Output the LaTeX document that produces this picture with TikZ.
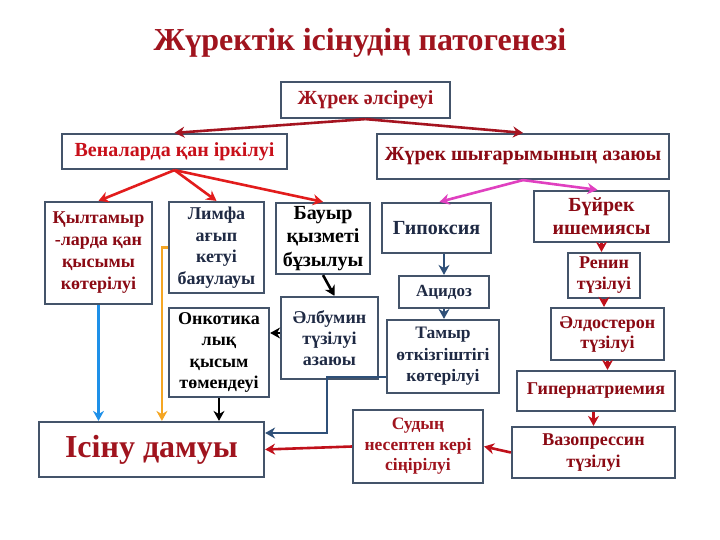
\documentclass[tikz,border=0pt]{standalone}
\usepackage{fontspec}
\setmainfont{Liberation Serif}
\usetikzlibrary{arrows.meta,calc}
\definecolor{bordc}{HTML}{44546A}
\definecolor{dred}{HTML}{A0141E}
\definecolor{bred}{HTML}{C8101A}
\definecolor{mred}{HTML}{8B0A14}
\definecolor{navyt}{HTML}{1F2A44}
\definecolor{arrDR}{HTML}{A51420}
\definecolor{arrR}{HTML}{E21C1C}
\definecolor{arrM}{HTML}{E040C0}
\definecolor{arrB}{HTML}{1E90E8}
\definecolor{arrO}{HTML}{F5A623}
\definecolor{arrN}{HTML}{2F5078}
\definecolor{arrRR}{HTML}{C0101A}
\tikzset{
  box/.style={draw=bordc, line width=2.2pt, fill=white, inner sep=0pt, align=center},
  conn/.style={line width=2.6pt, -{Stealth[length=10pt,width=11pt]}},
  fz/.style 2 args={font=\fontsize{#1}{#2}\selectfont\bfseries},
}
\begin{document}
\begin{tikzpicture}[x=1pt,y=-1pt]
\useasboundingbox[fill=white] (0,0) rectangle (720,540);
\node[font=\fontsize{32}{36}\selectfont\bfseries, text=dred] (title) at (360,43) {Жүректік ісінудің патогенезі};

\node[box, fz={20}{24}, text=dred, minimum width=169, minimum height=36] (top) at (365.5,100) {Жүрек әлсіреуі};
\node[box, fz={20}{24}, text=bred, minimum width=225, minimum height=35] (ven) at (174.5,151.5) {Веналарда қан іркілуі};
\node[box, fz={20}{24}, text=mred, minimum width=292, minimum height=45] (zhsh) at (523,156.5) {Жүрек шығарымының азаюы};

\node[box, fz={18}{22}, text=mred, minimum width=107, minimum height=102] (qyl) at (98.5,253) {Қылтамыр\\-ларда қан\\қысымы\\көтерілуі};
\node[box, fz={18}{21.5}, text=navyt, minimum width=95, minimum height=91] (limfa) at (216.5,247.5) {Лимфа\\ағып\\кетуі\\баяулауы};
\node[box, fz={20}{23.5}, text=black, minimum width=94, minimum height=71] (bauyr) at (323,238.5) {Бауыр\\қызметі\\бұзылуы};
\node[box, fz={20}{24}, text=navyt, minimum width=109, minimum height=50] (gipo) at (436.5,228) {Гипоксия};
\node[box, fz={17}{20}, text=navyt, minimum width=90, minimum height=32] (acid) at (444,292) {Ацидоз};
\node[box, fz={17.5}{21.5}, text=navyt, minimum width=112, minimum height=73] (tamyr) at (443,356.5) {Тамыр\\өткізгіштігі\\көтерілуі};
\node[box, fz={18}{21}, text=navyt, minimum width=97, minimum height=82] (alb) at (329.5,338) {Әлбумин\\түзілуі\\азаюы};
\node[box, fz={18}{21.5}, text=black, minimum width=100, minimum height=89] (onko) at (219,352.5) {Онкотика\\лық\\қысым\\төмендеуі};

\node[box, fz={20}{23}, text=mred, minimum width=135, minimum height=51] (buyr) at (601.5,216.5) {Бүйрек\\ишемиясы};
\node[box, fz={18}{21}, text=mred, minimum width=72, minimum height=45] (renin) at (604,275.5) {Ренин\\түзілуі};
\node[box, fz={18}{20}, text=mred, minimum width=113, minimum height=52] (aldo) at (607.5,334) {Әлдостерон\\түзілуі};
\node[box, fz={18}{20}, text=mred, minimum width=158, minimum height=40] (giper) at (596,391) {Гипернатриемия};
\node[box, fz={18}{22}, text=mred, minimum width=163, minimum height=51] (vazo) at (593.5,452.5) {Вазопрессин\\түзілуі};
\node[box, fz={17.5}{20.5}, text=dred, minimum width=130, minimum height=73] (sudyn) at (418,446.5) {Судың\\несептен кері\\сіңірілуі};
\node[box, font=\fontsize{32}{36}\selectfont\bfseries, text=dred, minimum width=225, minimum height=55] (isinu) at (151.5,449.5) {Ісіну дамуы};

% top level
\draw[conn, arrDR] (top.south) -- (ven.north);
\draw[conn, arrDR] (top.south) -- (zhsh.north);
\draw[conn, arrR] (ven.south) -- (qyl.north);
\draw[conn, arrR] (ven.south) -- (limfa.north);
\draw[conn, arrR] (ven.south) -- (bauyr.north);
\draw[conn, arrM] (zhsh.south) -- ([xshift=3pt]gipo.north);
\draw[conn, arrM] (zhsh.south) -- ([xshift=-4pt]buyr.north);

% left column
\draw[conn, arrB] (qyl.south) -- (qyl.south |- isinu.north);
\coordinate (o1) at ($(limfa.west)+(-6,0)$);
\draw[conn, arrO] (limfa.west) -- (o1) -- (o1 |- isinu.north);
\draw[conn, black] (onko.south) -- (onko.south |- isinu.north);
\draw[conn, black] (bauyr.south) -- ([xshift=5pt]alb.north);
\draw[conn, black] ([yshift=5pt]alb.west) -- ([yshift=5pt]alb.west -| onko.east);

% middle column
\draw[conn, arrN] (gipo.south -| acid.north) -- (acid.north);
\draw[conn, arrN] (acid.south) -- (acid.south |- tamyr.north);
\coordinate (t1) at ([yshift=-20.5pt]tamyr.west);
\coordinate (t2) at (327,377);
\coordinate (t3) at (327,433);
\draw[conn, arrN] (t1) -- (t2) -- (t3) -- (t3 -| isinu.east);
\draw[conn, arrRR] (sudyn.west) -- (isinu.east);
\draw[conn, arrRR] (vazo.west) -- (sudyn.east);

% right column
\draw[conn, arrRR] (buyr.south) -- (buyr.south |- renin.north);
\draw[conn, arrRR] (renin.south) -- (renin.south |- aldo.north);
\draw[conn, arrRR] (aldo.south) -- (aldo.south |- giper.north);
\draw[conn, arrRR] (giper.south -| vazo.north) -- (vazo.north);
\end{tikzpicture}
\end{document}
